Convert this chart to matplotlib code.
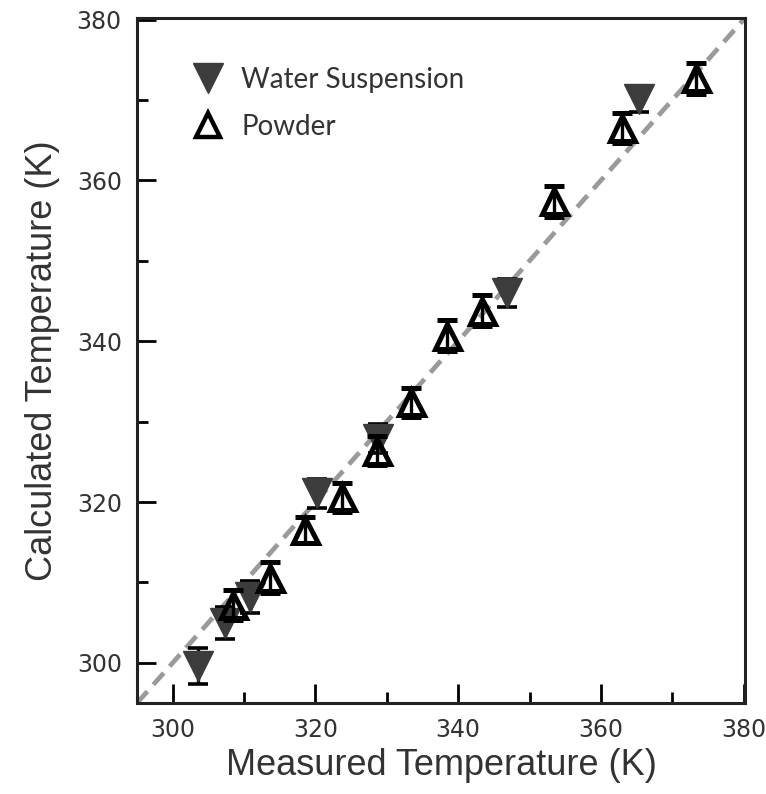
import numpy as np
import matplotlib
matplotlib.use("Agg")
import matplotlib.pyplot as plt
from matplotlib.lines import Line2D
from matplotlib.ticker import MultipleLocator

# water suspension (filled, downward triangles)
water_x = [303.5, 307.3, 310.8, 320.2, 328.7, 346.9, 365.3]
water_y = [299.6, 304.9, 308.2, 321.1, 327.9, 346.0, 370.1]
water_err = [2.2, 2.0, 2.0, 1.8, 1.8, 1.8, 1.6]

# powder (open, upward triangles)
powder_x = [308.4, 313.6, 318.5, 323.7, 328.6, 333.4, 338.5, 343.4, 353.4, 362.9, 373.3]
powder_y = [307.2, 310.6, 316.5, 320.6, 326.4, 332.4, 340.7, 343.8, 357.4, 366.5, 372.7]
powder_err = [1.9, 1.9, 1.6, 1.8, 1.8, 1.8, 1.9, 1.9, 1.9, 1.9, 1.9]

ref_line = [295, 380]

fig = plt.figure(figsize=(7.66, 7.94), dpi=100)
ax = fig.add_axes([0.1789, 0.1146, 0.7937, 0.8627])

ax.plot(ref_line, ref_line, ls=(0, (3.3, 1.9)), color='#9a9a9a', lw=3.4, zorder=1)

ax.errorbar(water_x, water_y, yerr=water_err, fmt='v', ms=21, color='#3c3c3c',
            mec='#3c3c3c', ecolor='black', elinewidth=2.4, capsize=7, capthick=2.6, zorder=2)
ax.errorbar(powder_x, powder_y, yerr=powder_err, fmt='^', ms=18, mfc='none', mec='black',
            mew=3.6, ecolor='black', elinewidth=2.4, capsize=7, capthick=2.6, zorder=3)

ax.set_xlim(295, 380.2)
ax.set_ylim(295, 380.2)
ax.xaxis.set_major_locator(MultipleLocator(20))
ax.xaxis.set_minor_locator(MultipleLocator(10))
ax.yaxis.set_major_locator(MultipleLocator(20))
ax.yaxis.set_minor_locator(MultipleLocator(10))
ax.tick_params(which='major', direction='in', length=14, width=2, top=False, right=False,
               labelsize=17, labelcolor='#333333', pad=11)
ax.tick_params(which='minor', direction='in', length=8, width=2, top=False, right=False)
for lab in ax.get_xticklabels() + ax.get_yticklabels():
    lab.set_family('DejaVu Sans')
for s in ax.spines.values():
    s.set_linewidth(2.2)
    s.set_color('#222222')

ax.set_xlabel('Measured Temperature (K)', fontsize=26, family='Liberation Sans',
              color='#333333', labelpad=4)
ax.set_ylabel('Calculated Temperature (K)', fontsize=26, family='Liberation Sans',
              color='#333333', labelpad=12)

handles = [Line2D([], [], ls='none', marker='v', ms=22, color='#3c3c3c'),
           Line2D([], [], ls='none', marker='^', ms=17, mfc='none', mec='black', mew=3.2)]
ax.legend(handles, ['Water Suspension', 'Powder'], loc='upper left', frameon=False,
          bbox_to_anchor=(0.03, 0.965), handletextpad=0.2, labelspacing=0.75,
          prop={'family': 'Lato', 'size': 20}, labelcolor='#333333')

plt.savefig('out.png', dpi=100)
